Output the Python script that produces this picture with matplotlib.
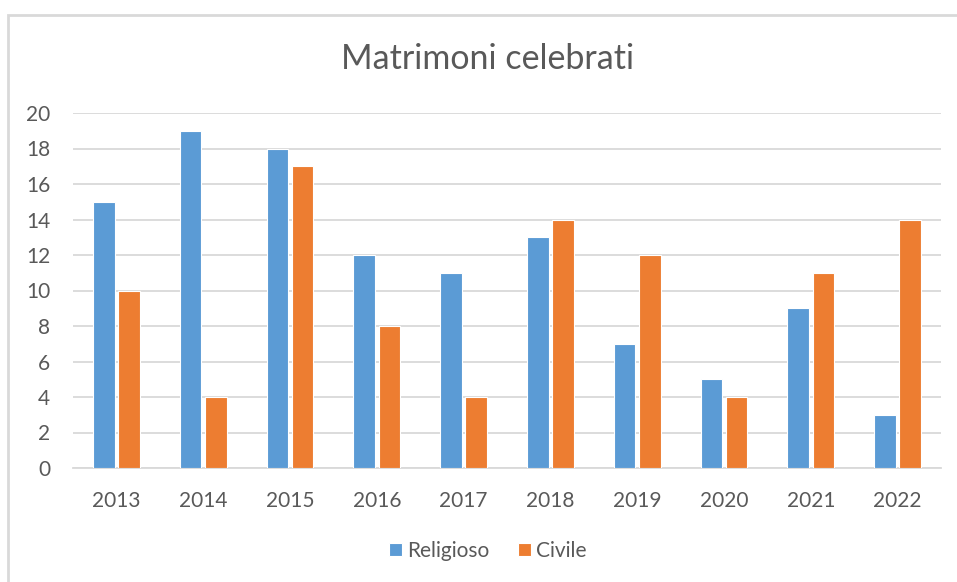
import numpy as np
import matplotlib.pyplot as plt
from matplotlib.patches import Rectangle

years = ['2013', '2014', '2015', '2016', '2017', '2018', '2019', '2020', '2021', '2022']
religioso = [15, 19, 18, 12, 11, 13, 7, 5, 9, 3]
civile = [10, 4, 17, 8, 4, 14, 12, 4, 11, 14]

plt.rcParams['font.family'] = ['Lato', 'DejaVu Sans']
text_col = '#595959'

fig = plt.figure(figsize=(9.57, 5.82), dpi=100)
W, H = 957, 582
ax = fig.add_axes([73 / W, 1 - 468 / H, (941 - 73) / W, (468 - 113) / H])

# chart frame (only left/top edges visible in the screenshot)
fig.patches.append(Rectangle((8 / W, -0.1), 1.2, 1 - 15 / H + 0.1, transform=fig.transFigure,
                             fill=False, edgecolor='#d9d9d9', linewidth=2, zorder=0))

x = np.arange(len(years))
w = 0.25
ax.bar(x - 0.145, religioso, w, color='#5B9BD5', edgecolor='white', linewidth=0.8, label='Religioso', zorder=3)
ax.bar(x + 0.145, civile, w, color='#ED7D31', edgecolor='white', linewidth=0.8, label='Civile', zorder=3)

ax.set_xlim(-0.5, len(years) - 0.5)
ax.set_ylim(0, 20)
ax.set_yticks(range(0, 21, 2))
ax.set_xticks(x)
ax.set_xticklabels(years)
ax.grid(axis='y', color='#d9d9d9', linewidth=1.3, zorder=0)
ax.set_axisbelow(True)
for s in ['top', 'right', 'left']:
    ax.spines[s].set_visible(False)
ax.spines['bottom'].set_color('#d9d9d9')
ax.spines['bottom'].set_linewidth(1.3)
ax.tick_params(axis='both', length=0, labelsize=15, colors=text_col)
ax.tick_params(axis='y', pad=16.5)
ax.tick_params(axis='x', pad=16.5)

fig.text(488 / W, 1 - 59 / H, 'Matrimoni celebrati', ha='center', va='center', fontsize=24.5, color=text_col)

fig.legend(loc='center', bbox_to_anchor=(488 / W, 1 - 551 / H), ncol=2, frameon=False,
           fontsize=15, labelcolor=text_col, handlelength=0.6, handleheight=0.6,
           handletextpad=0.25, columnspacing=1.4)

fig.savefig('out.png', dpi=100)
